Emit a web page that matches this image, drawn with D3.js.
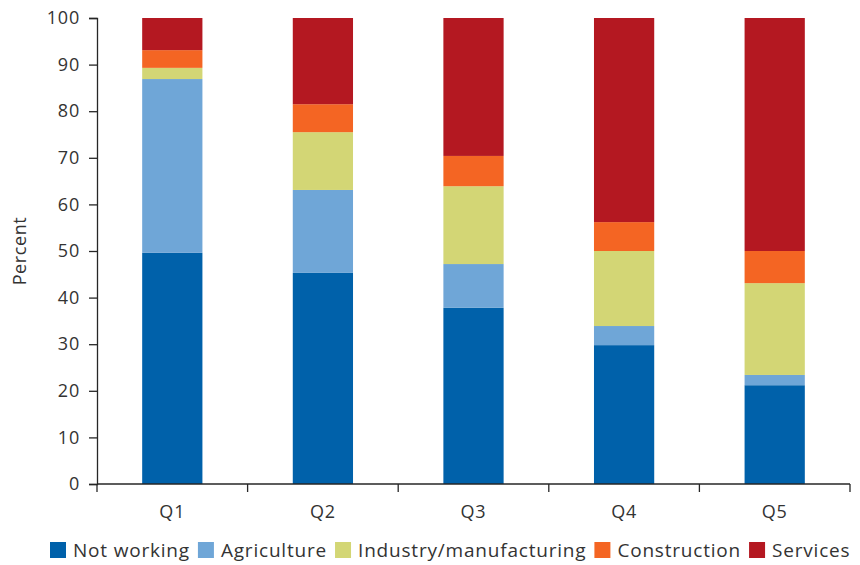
<!DOCTYPE html>
<html>
<head>
  <meta charset="utf-8"/>
  <script src="https://d3js.org/d3.v7.min.js"></script>
  <style>
    body { margin: 0; background: #fff; }
    text { font-family: "Open Sans", "Noto Sans", sans-serif; fill: #333; }
  </style>
</head>
<body>
<div id="chart"></div>
<script>
  // quintiles and the share of each activity (percent)
  var quintiles = ["Q1", "Q2", "Q3", "Q4", "Q5"];
  var seriesNames = ["Not working", "Agriculture", "Industry/manufacturing", "Construction", "Services"];
  var notWorking    = [49.6, 45.3, 37.8, 29.8, 21.2];
  var agriculture   = [37.3, 17.8,  9.4,  4.1,  2.2];
  var industry      = [ 2.4, 12.4, 16.7, 16.1, 19.7];
  var construction  = [ 3.8,  6.0,  6.5,  6.2,  6.9];
  var services      = [ 6.9, 18.5, 29.6, 43.8, 50.0];
  var colors = ["#0061aa", "#6fa6d7", "#d3d675", "#f46523", "#b41821"];
  var yTicks = [0, 10, 20, 30, 40, 50, 60, 70, 80, 90, 100];

  var width = 860, height = 565;
  var margin = { left: 97, right: 10, top: 18, bottom: 81 };

  var values = [notWorking, agriculture, industry, construction, services];
  var table = quintiles.map(function (q, i) {
    var row = { q: q };
    seriesNames.forEach(function (s, j) { row[s] = values[j][i]; });
    return row;
  });
  var stacked = d3.stack().keys(seriesNames)(table);

  var svg = d3.select("#chart").append("svg")
    .attr("width", width).attr("height", height);

  var x = d3.scaleBand().domain(quintiles)
    .range([margin.left, 850]).paddingInner(0.6).paddingOuter(0.3);
  var y = d3.scaleLinear().domain([0, 100])
    .range([height - margin.bottom, margin.top]);

  // bars
  svg.append("g").selectAll("g")
    .data(stacked).enter().append("g")
    .attr("fill", function (d, i) { return colors[i]; })
    .selectAll("rect")
    .data(function (d) { return d; }).enter().append("rect")
    .attr("x", function (d) { return x(d.data.q); })
    .attr("width", x.bandwidth())
    .attr("y", function (d) { return y(d[1]); })
    .attr("height", function (d) { return y(d[0]) - y(d[1]); });

  // y axis
  var yAxis = svg.append("g")
    .attr("transform", "translate(" + margin.left + ",0)")
    .call(d3.axisLeft(y).tickValues(yTicks).tickSize(8).tickPadding(9));
  yAxis.selectAll("text").style("font-size", "18px").style("letter-spacing", "0.8px")
    .attr("fill", "#333");
  yAxis.selectAll("line, path").attr("stroke", "#262626").attr("stroke-width", 1.3);

  // x axis with ticks at category borders
  var x0 = height - margin.bottom;
  var xg = svg.append("g");
  xg.append("line").attr("x1", margin.left).attr("x2", 850)
    .attr("y1", x0).attr("y2", x0).attr("stroke", "#262626").attr("stroke-width", 1.3);
  var step = x.step();
  var borders = d3.range(quintiles.length + 1).map(function (i) { return margin.left + i * step; });
  xg.selectAll(".b").data(borders).enter().append("line")
    .attr("x1", function (d) { return d; }).attr("x2", function (d) { return d; })
    .attr("y1", x0).attr("y2", x0 + 8).attr("stroke", "#262626").attr("stroke-width", 1.3);
  xg.selectAll("text").data(quintiles).enter().append("text")
    .attr("x", function (d) { return x(d) + x.bandwidth() / 2; })
    .attr("y", x0 + 34)
    .attr("text-anchor", "middle").style("font-size", "18px").style("letter-spacing", "0.8px")
    .text(function (d) { return d; });

  // y label
  svg.append("text")
    .attr("transform", "translate(26," + y(50) + ") rotate(-90)")
    .attr("text-anchor", "middle").style("font-size", "18px").style("letter-spacing", "0.6px")
    .text("Percent");

  // legend
  var legend = svg.append("g");
  var lx = 50, ly = 542;
  seriesNames.forEach(function (s, i) {
    legend.append("rect").attr("x", lx).attr("y", ly)
      .attr("width", 16).attr("height", 16).attr("fill", colors[i]);
    var t = legend.append("text").attr("x", lx + 23).attr("y", ly + 15)
      .style("font-size", "19px").style("letter-spacing", "0.8px").text(s);
    lx += 23 + t.node().getComputedTextLength() + 8;
  });
</script>
</body>
</html>
